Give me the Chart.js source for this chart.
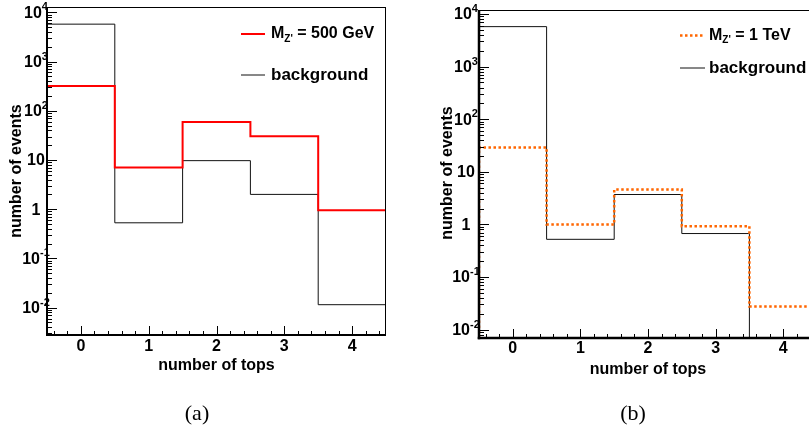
<!DOCTYPE html>
<html>
<head>
<meta charset="utf-8">
<script src="https://cdn.jsdelivr.net/npm/chart.js@4/dist/chart.umd.min.js"></script>
<style>
  html, body { margin: 0; padding: 0; background: #fff; }
  body { width: 809px; height: 437px; overflow: hidden; position: relative; }
  canvas { position: absolute; top: 0; }
  #cA { left: 0; }
  #cB { left: 404px; }
  .cap { position: absolute; top: 400px; font-family: "Liberation Serif", serif; font-size: 22px; color: #000; transform: translateX(-50%); }
</style>
</head>
<body>
<canvas id="cA" width="404" height="437"></canvas>
<canvas id="cB" width="440" height="437"></canvas>
<div class="cap" style="left:197px">(a)</div>
<div class="cap" style="left:633px">(b)</div>
<script>
// ---- data ----
const binEdges = [-0.5, 0.5, 1.5, 2.5, 3.5, 4.5];
const xTickLabels = ['0', '1', '2', '3', '4'];
const yTickExponents = [-2, -1, 0, 1, 2, 3, 4];
const signalA = [318, 7.0, 59, 30.5, 0.95];        // M_Z' = 500 GeV
const backgroundA = [5750, 0.53, 9.7, 2.0, 0.0115];
const signalB = [29, 0.99, 4.6, 0.92, 0.0274];     // M_Z' = 1 TeV
const backgroundB = [5750, 0.52, 3.7, 0.67, 0];
const xTitle = 'number of tops';
const yTitle = 'number of events';
const legendA = [{ main: 'M', sub: "Z'", rest: ' = 500 GeV' }, { main: 'background' }];
const legendB = [{ main: 'M', sub: "Z'", rest: ' = 1 TeV' }, { main: 'background' }];

// ---- helpers ----
function histPoints(values, floor) {
  const pts = [{ x: binEdges[0], y: floor }];
  values.forEach((v, i) => pts.push({ x: binEdges[i], y: v > 0 ? v : floor }));
  const last = values[values.length - 1];
  pts.push({ x: binEdges[binEdges.length - 1], y: last > 0 ? last : floor });
  pts.push({ x: binEdges[binEdges.length - 1], y: floor });
  return pts;
}

const F = '"Liberation Sans", Arial, sans-serif';

function drawAxes(chart, cfg) {
  const ctx = chart.ctx;
  const a = chart.chartArea;
  const xs = chart.scales.x, ys = chart.scales.y;
  ctx.save();
  ctx.setLineDash([]);
  ctx.fillStyle = '#000';
  // frame top/right (1px)
  ctx.fillRect(a.left, a.top, a.right - a.left, 1);
  ctx.fillRect(a.right - 1, a.top, 1, a.bottom - a.top);
  // axes
  const w = cfg.axisWidth;
  ctx.fillRect(a.left - w / 2, a.top, w, a.bottom - a.top + w / 2);
  ctx.fillRect(a.left - w / 2, a.bottom - w / 2, a.right - a.left + w / 2, w);
  // y ticks (log, major + minor)
  const lo = Math.log10(ys.min), hi = Math.log10(ys.max);
  for (let e = Math.floor(lo); e <= Math.ceil(hi); e++) {
    for (let m = 1; m <= 9; m++) {
      const lv = e + Math.log10(m);
      if (lv < lo || lv > hi) continue;
      const y = Math.round(ys.getPixelForValue(Math.pow(10, lv)));
      const len = m === 1 ? 10 : 5;
      ctx.fillRect(a.left, y, len, 1);
    }
  }
  // x ticks
  for (let i = -2; i <= 22; i++) {
    const x = Math.round(xs.getPixelForValue(i / 5));
    const len = (i % 5 === 0) ? 9 : 4;
    ctx.fillRect(x, a.bottom - len, 1, len);
  }

  yTickExponents.forEach(e => {
    const y = ys.getPixelForValue(Math.pow(10, e)) + 1;
    let base, sup = null;
    if (e === 0) base = '1';
    else if (e === 1) base = '10';
    else { base = '10'; sup = String(e); }
    ctx.font = 'bold 16px ' + F;
    const wb = ctx.measureText(base).width;
    let ws = 0;
    if (sup) { ctx.font = 'bold 11px ' + F; ws = ctx.measureText(sup).width; }
    const x0 = cfg.yLabelCenter - (wb + ws) / 2;
    ctx.textAlign = 'left'; ctx.textBaseline = 'middle';
    ctx.font = 'bold 16px ' + F;
    ctx.fillText(base, x0, y);
    if (sup) {
      ctx.font = 'bold 11px ' + F;
      ctx.fillText(sup, x0 + wb, y - 6);
    }
  });
  ctx.font = 'bold 16px ' + F;
  ctx.textAlign = 'center'; ctx.textBaseline = 'middle';
  xTickLabels.forEach((t, i) => {
    ctx.fillText(t, xs.getPixelForValue(i), a.bottom + cfg.xLabelOffset);
  });
  ctx.fillText(xTitle, (a.left + a.right) / 2, a.bottom + cfg.xTitleOffset);
  ctx.save();
  ctx.translate(cfg.yTitleX, cfg.yTitleY);
  ctx.rotate(-Math.PI / 2);
  ctx.fillText(yTitle, 0, 0);
  ctx.restore();

  cfg.legend.forEach((item, i) => {
    const ly = cfg.legendY[i];
    const ds = chart.data.datasets[i];
    ctx.save();
    ctx.strokeStyle = ds.borderColor;
    ctx.lineWidth = ds.borderWidth;
    ctx.setLineDash(ds.borderDash || []);
    ctx.beginPath();
    ctx.moveTo(cfg.legendX0, ly); ctx.lineTo(cfg.legendX1, ly);
    ctx.stroke();
    ctx.restore();
    let tx = cfg.legendTextX;
    ctx.textAlign = 'left'; ctx.textBaseline = 'middle';
    if (item.sub) {
      ctx.font = 'bold 16px ' + F;
      ctx.fillText(item.main, tx, ly);
      tx += ctx.measureText(item.main).width;
      ctx.font = 'bold 10px ' + F;
      ctx.fillText(item.sub, tx, ly + 5);
      tx += ctx.measureText(item.sub).width;
      ctx.font = 'bold 16px ' + F;
      ctx.fillText(item.rest, tx, ly);
    } else {
      ctx.font = 'bold 17px ' + F;
      ctx.fillText(item.main, tx, ly);
    }
  });
  ctx.restore();
}

function makeChart(id, signal, background, sigStyle, yMin, yMax, padding, cfg) {
  return new Chart(document.getElementById(id), {
    type: 'line',
    data: {
      datasets: [
        Object.assign({ data: histPoints(signal, yMin), stepped: true, pointRadius: 0, fill: false, order: 0 }, sigStyle),
        { data: histPoints(background, yMin), stepped: true, pointRadius: 0, fill: false,
          borderColor: '#111', borderWidth: 1, order: 1 }
      ]
    },
    options: {
      responsive: false,
      animation: false,
      devicePixelRatio: 1,
      layout: { padding: padding },
      plugins: { legend: { display: false }, tooltip: { enabled: false } },
      scales: {
        x: { type: 'linear', min: -0.5, max: 4.5, display: false },
        y: { type: 'logarithmic', min: yMin, max: yMax, display: false }
      }
    },
    plugins: [{ id: 'rootAxes', afterDraw: (c) => drawAxes(c, cfg) }]
  });
}

makeChart('cA', signalA, backgroundA,
  { borderColor: '#ff0000', borderWidth: 2 },
  Math.pow(10, -2.555), Math.pow(10, 4.108),
  { left: 47, right: 18, top: 7, bottom: 102 },
  { axisWidth: 2, yLabelCenter: 36, xLabelOffset: 12, xTitleOffset: 31,
    yTitleX: 17, yTitleY: 171,
    legend: legendA, legendY: [34, 75], legendX0: 241, legendX1: 265, legendTextX: 271 });

makeChart('cB', signalB, backgroundB,
  { borderColor: '#ff6600', borderWidth: 2.5, borderDash: [2.5, 2.5] },
  Math.pow(10, -2.16), Math.pow(10, 4.076),
  { left: 75, right: 27, top: 10, bottom: 99 },
  { axisWidth: 2.5, yLabelCenter: 62, xLabelOffset: 11, xTitleOffset: 32,
    yTitleX: 44, yTitleY: 173,
    legend: legendB, legendY: [35.5, 68], legendX0: 276, legendX1: 301, legendTextX: 305 });
</script>
</body>
</html>
